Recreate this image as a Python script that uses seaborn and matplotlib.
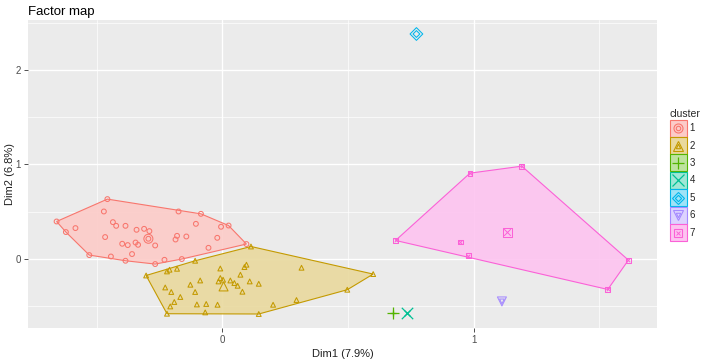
import numpy as np
import pandas as pd
import seaborn as sns
import matplotlib.pyplot as plt
from matplotlib.colors import to_rgb
from matplotlib.patches import Patch, Rectangle
from matplotlib.lines import Line2D

# Tema tipo ggplot (fondo gris, grilla blanca)
sns.set_theme(style="darkgrid", rc={
    "axes.facecolor": "#EBEBEB",
    "grid.color": "white",
    "axes.edgecolor": "none",
})
plt.rcParams['font.family'] = ['Liberation Sans', 'DejaVu Sans']

# Datos (Dim1, Dim2) por cluster
c1_x = [-0.659, -0.457, -0.174, -0.085, 0.025, 0.096, -0.161, -0.230, -0.267, -0.385, -0.443, -0.529, -0.622,
        -0.471, -0.584, -0.435, -0.422, -0.385, -0.341, -0.311, -0.290, -0.466, -0.398, -0.376, -0.345,
        -0.335, -0.267, -0.359, -0.180, -0.186, -0.143, -0.105, -0.005, -0.020, -0.055, -0.294]
c1_y = [0.395, 0.632, 0.501, 0.476, 0.352, 0.156, -0.003, -0.011, -0.056, -0.021, 0.024, 0.039, 0.283,
        0.501, 0.325, 0.388, 0.349, 0.349, 0.307, 0.317, 0.293, 0.230, 0.159, 0.145, 0.172,
        0.148, 0.141, 0.050, 0.243, 0.204, 0.236, 0.370, 0.339, 0.222, 0.116, 0.212]
c2_x = [-0.303, -0.220, -0.068, 0.145, 0.497, 0.600, 0.114, -0.108, -0.220, -0.210, -0.180,
        -0.008, 0.096, 0.088, 0.072, -0.008, -0.015, 0.003, 0.032, 0.048, 0.061, 0.109, 0.145,
        0.080, -0.088, -0.127, -0.108, -0.227, -0.203, -0.167, -0.191, -0.207, -0.101, -0.064,
        -0.019, 0.202, 0.295, 0.315]
c2_y = [-0.177, -0.582, -0.568, -0.585, -0.328, -0.162, 0.130, -0.021, -0.134, -0.116, -0.106,
        -0.103, -0.063, -0.088, -0.169, -0.204, -0.240, -0.222, -0.230, -0.257, -0.286, -0.240, -0.265,
        -0.349, -0.230, -0.275, -0.352, -0.304, -0.352, -0.405, -0.458, -0.505, -0.484, -0.479,
        -0.487, -0.487, -0.437, -0.095]
c3_x, c3_y = [0.677], [-0.571]
c4_x, c4_y = [0.733], [-0.571]
c5_x, c5_y = [0.772], [2.381]
c6_x, c6_y = [1.112], [-0.452]
c7_x = [0.689, 0.985, 1.191, 1.615, 1.533, 0.979, 0.947]
c7_y = [0.194, 0.907, 0.981, -0.014, -0.325, 0.032, 0.177]

# Centros de cada cluster
centro_x = [-0.294, 0.005, 0.677, 0.733, 0.772, 1.112, 1.134]
centro_y = [0.212, -0.293, -0.571, -0.571, 2.381, -0.452, 0.283]

clusters = ['1', '2', '3', '4', '5', '6', '7']
colores = ['#F8766D', '#C49A00', '#53B400', '#00C094', '#00B6EB', '#A58AFF', '#FB61D7']
marcadores = ['o', '^', '+', 'x', 'D', 'v', 's']

xs = [c1_x, c2_x, c3_x, c4_x, c5_x, c6_x, c7_x]
ys = [c1_y, c2_y, c3_y, c4_y, c5_y, c6_y, c7_y]
df = pd.concat([pd.DataFrame({'Dim1': x, 'Dim2': y, 'cluster': c})
                for x, y, c in zip(xs, ys, clusters)], ignore_index=True)


def casco_convexo(pts):
    # cadena monótona de Andrew
    pts = sorted(set(pts))
    if len(pts) < 3:
        return pts

    def cruz(o, a, b):
        return (a[0] - o[0]) * (b[1] - o[1]) - (a[1] - o[1]) * (b[0] - o[0])
    inf, sup = [], []
    for p in pts:
        while len(inf) >= 2 and cruz(inf[-2], inf[-1], p) <= 0:
            inf.pop()
        inf.append(p)
    for p in reversed(pts):
        while len(sup) >= 2 and cruz(sup[-2], sup[-1], p) <= 0:
            sup.pop()
        sup.append(p)
    return inf[:-1] + sup[:-1]


def tinte(col, a=0.38):
    # color mezclado con blanco
    return tuple(1 - a * (1 - c) for c in to_rgb(col))


fig = plt.figure(figsize=(7.09, 3.61), dpi=100)
ax = fig.add_axes([28 / 709, 1 - 328 / 361, (657 - 28) / 709, (328 - 20) / 361])

for cl, col, m in zip(clusters, colores, marcadores):
    sub = df[df['cluster'] == cl]
    casco = casco_convexo(list(zip(sub['Dim1'], sub['Dim2'])))
    if len(casco) >= 3:
        hx, hy = zip(*casco)
        ax.fill(hx, hy, facecolor=tinte(col), alpha=0.9, edgecolor='none', zorder=2)
        ax.fill(hx, hy, facecolor='none', edgecolor=col, linewidth=0.8, zorder=3)
    i = clusters.index(cl)
    for tam, datos_x, datos_y in [(12, sub['Dim1'], sub['Dim2']), (42, [centro_x[i]], [centro_y[i]])]:
        if m in ['+', 'x']:
            sns.scatterplot(x=datos_x, y=datos_y, marker=m, color=col, s=tam * 1.6,
                            linewidth=0.9, ax=ax, zorder=4)
        else:
            sns.scatterplot(x=datos_x, y=datos_y, marker=m, facecolors='none', edgecolor=col,
                            s=tam, linewidth=0.75, ax=ax, zorder=4)
            if m == 's':
                sns.scatterplot(x=datos_x, y=datos_y, marker='x', color=col, s=tam * 0.55,
                                linewidth=0.7, ax=ax, zorder=4)

# Límites con expansión del 5% como ggplot
rx = df['Dim1'].max() - df['Dim1'].min()
ry = df['Dim2'].max() - df['Dim2'].min()
ax.set_xlim(df['Dim1'].min() - 0.05 * rx, df['Dim1'].max() + 0.05 * rx)
ax.set_ylim(df['Dim2'].min() - 0.05 * ry, df['Dim2'].max() + 0.05 * ry)

ax.set_xticks([0, 1])
ax.set_yticks([0, 1, 2])
ax.set_xticks([-0.5, 0.5, 1.5], minor=True)
ax.set_yticks([-0.5, 0.5, 1.5, 2.5], minor=True)
ax.grid(which='major', color='white', linewidth=1.0)
ax.grid(which='minor', color='white', linewidth=0.5)
ax.tick_params(which='major', length=3, width=0.6, color='#333333', labelsize=7,
               labelcolor='#4D4D4D', pad=2, bottom=True, left=True)
ax.tick_params(which='minor', length=0)
for s in ax.spines.values():
    s.set_visible(False)

ax.set_xlabel('Dim1 (7.9%)', fontsize=8, color='#222222', labelpad=3)
ax.set_ylabel('Dim2 (6.8%)', fontsize=8, color='#222222')
ax.yaxis.set_label_coords(-13 / 629, 0.5)
fig.text(28 / 709, 1 - 12 / 361, 'Factor map', fontsize=9.5, color='black', va='center', ha='left')


# Leyenda: recuadro relleno + forma del cluster
class ClaveCluster:
    def __init__(self, col, m):
        self.col, self.m = col, m

    def legend_artist(self, legend, orig_handle, fontsize, handlebox):
        x0, y0 = -handlebox.xdescent, -handlebox.ydescent
        w, h = handlebox.width, handlebox.height
        tr = handlebox.get_transform()
        handlebox.add_artist(Rectangle((x0, y0), w, h, facecolor=tinte(self.col), edgecolor=self.col,
                                       linewidth=0.8, transform=tr))
        cx, cy = x0 + w / 2, y0 + h / 2
        if self.m in ['+', 'x']:
            formas = [(self.m, 8, 0.9, self.col)]
        elif self.m == 's':
            formas = [('s', 6, 0.8, 'none'), ('x', 3.5, 0.7, self.col)]
        else:
            formas = [(self.m, 6.5, 0.8, 'none'), (self.m, 3.2, 0.8, 'none')]
        for mk, ms, mw, fc in formas:
            handlebox.add_artist(Line2D([cx], [cy], marker=mk, markersize=ms, mew=mw, color=self.col,
                                        mfc=fc, ls='', transform=tr))
        return handlebox


handles = [Patch(label=c) for c in clusters]
mapa = {h: ClaveCluster(col, m) for h, col, m in zip(handles, colores, marcadores)}
leg = fig.legend(handles=handles, labels=clusters, title='cluster', loc='center left',
                 bbox_to_anchor=(669 / 709, 0.515), frameon=False, fontsize=7,
                 title_fontsize=7.5, handler_map=mapa,
                 handlelength=1.7, handleheight=2.3, labelspacing=0.05, handletextpad=0.3,
                 borderpad=0.1, borderaxespad=0)
leg._legend_box.align = 'left'

fig.savefig('out.png', dpi=100)
